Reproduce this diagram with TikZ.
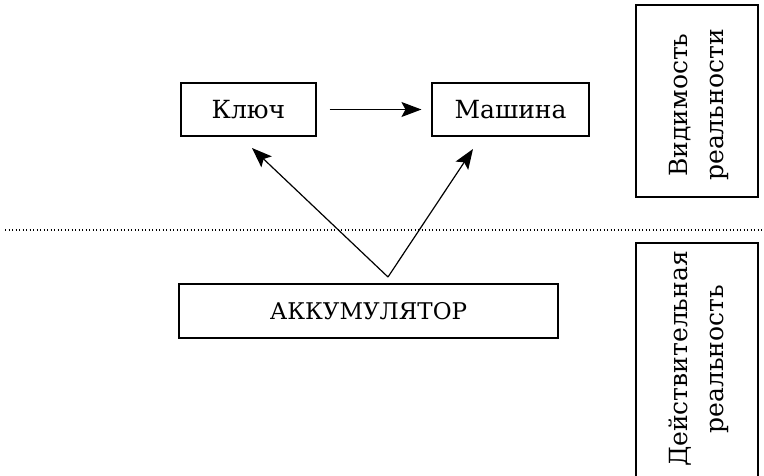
\documentclass[tikz,border=0pt]{standalone}
\usepackage{fontspec}
\setmainfont{DejaVu Serif}
\usetikzlibrary{arrows.meta}
\begin{document}
\begin{tikzpicture}[x=1pt,y=-1pt,
  box/.style={draw,line width=1.1pt,rectangle,inner sep=0pt,font=\fontsize{25}{30}\selectfont},
  side/.style={rotate=90,align=center,font=\fontsize{25}{36}\selectfont},
  arr/.style={line width=1.2pt,-{Stealth[length=20pt,width=15pt,inset=4pt]}},
  sep/.style={line width=1.2pt,dash pattern=on 1.3pt off 2.2pt}]
  \useasboundingbox (0,0) rectangle (764,475);
  \clip (0,0) rectangle (764,475);
  % upper level: key and machine
  \node[box,minimum width=135pt,minimum height=53pt] (key) at (248.5,109.5) {Ключ};
  \node[box,minimum width=157pt,minimum height=53pt] (mach) at (510.5,109.5) {Машина};
  % lower level: battery
  \node[box,minimum width=379pt,minimum height=54pt,font=\fontsize{23}{28}\selectfont] (acc) at (368.5,311) {АККУМУЛЯТОР};
  % side labels
  \node[box,minimum width=122pt,minimum height=192pt] (vis) at (697,101) {};
  \node[side] (vist) at (699,105) {Видимость\\реальности};
  \node[box,minimum width=122pt,minimum height=270pt] (real) at (697,378) {};
  \node[side] (realt) at (699,359) {Действительная\\реальность};
  % boundary between the two levels
  \coordinate (sl) at (5,230);
  \coordinate (sr) at (764,230);
  \draw[sep] (sl) -- (sr);
  % connectors
  \draw[arr,shorten <=13pt,shorten >=10pt] (key.east) -- (mach.west);
  \coordinate (apex) at (388,277);
  \coordinate (ktip) at (252,148);
  \coordinate (mtip) at (473,149);
  \draw[arr] (apex) -- (ktip);
  \draw[arr] (apex) -- (mtip);
\end{tikzpicture}
\end{document}
